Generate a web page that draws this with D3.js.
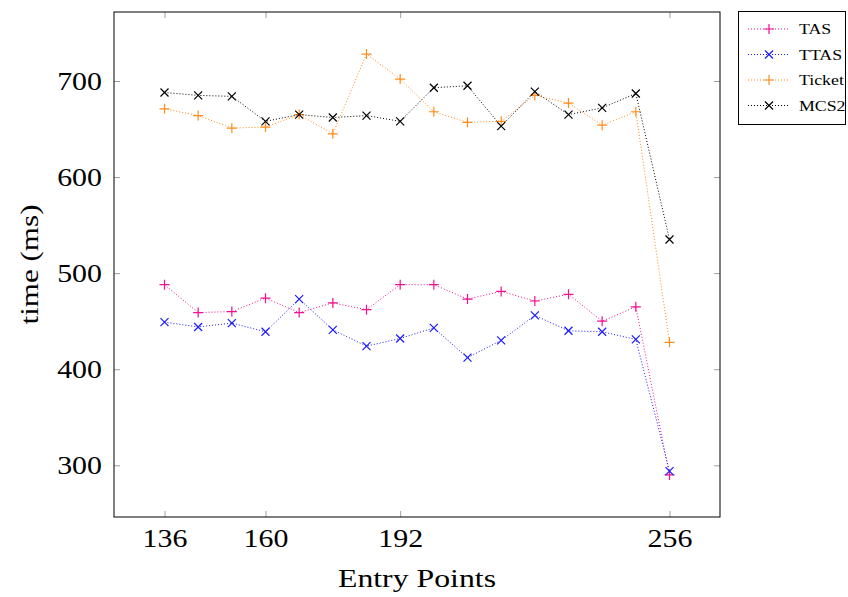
<!DOCTYPE html>
<html>
<head>
<meta charset="utf-8">
<script src="https://cdn.jsdelivr.net/npm/d3@7"></script>
<style>
	body {margin:0; background:#fff;}
	svg text {font-family:"Liberation Serif", "DejaVu Serif", serif; fill:#000;}
</style>
</head>
<body>
<script>
//data
var entryPoints = [136, 144, 152, 160, 168, 176, 184, 192, 200, 208, 216, 224, 232, 240, 248, 256];
var xTicks = [136, 160, 192, 256];
var yTicks = [300, 400, 500, 600, 700];

var tasTimes    = [488, 459, 460, 474, 459, 469, 462, 488, 488, 473, 481, 471, 478, 450, 465, 290];
var ttasTimes   = [449, 444, 448, 439, 473, 441, 424, 432, 443, 412, 430, 456, 440, 439, 431, 294];
var ticketTimes = [671, 664, 651, 652, 665, 645, 728, 702, 668, 657, 658, 685, 677, 654, 668, 428];
var mcs2Times   = [688, 685, 684, 658, 665, 662, 664, 658, 693, 695, 653, 689, 665, 672, 687, 535];

var seriesNames = ["TAS", "TTAS", "Ticket", "MCS2"];
var seriesValues = [tasTimes, ttasTimes, ticketTimes, mcs2Times];
var seriesColors = ["#ee1190", "#1a1aff", "#ff8c1a", "#000000"];
var seriesMarks = ["plus", "cross", "plus", "cross"];

var W = 848, H = 597;
var margin = {left: 114, right: 128, top: 12, bottom: 80};

var svg = d3.select("body").append("svg")
	.attr("width", W)
	.attr("height", H);

//pgfplots style: 10% enlarged limits
var xExt = d3.extent(entryPoints),
	yExt = [d3.min(seriesValues, function(s){return d3.min(s);}), d3.max(seriesValues, function(s){return d3.max(s);})];
var xPad = (xExt[1]-xExt[0])*0.1,
	yPad = (yExt[1]-yExt[0])*0.1;

var xScale = d3.scaleLinear()
	.domain([xExt[0]-xPad, xExt[1]+xPad])
	.range([margin.left, W - margin.right]);
var yScale = d3.scaleLinear()
	.domain([yExt[0]-yPad, yExt[1]+yPad])
	.range([H - margin.bottom, margin.top]);

var x0 = margin.left, x1 = W - margin.right,
	y0 = H - margin.bottom, y1 = margin.top;

//ticks (inward, both sides)
var tickLen = 6;
var axisBottom = d3.axisBottom(xScale).tickValues(xTicks).tickSizeInner(-tickLen).tickSizeOuter(0).tickPadding(12);
var axisTop = d3.axisTop(xScale).tickValues(xTicks).tickSizeInner(-tickLen).tickSizeOuter(0).tickFormat("");
var axisLeft = d3.axisLeft(yScale).tickValues(yTicks).tickSizeInner(-tickLen).tickSizeOuter(0).tickPadding(12);
var axisRight = d3.axisRight(yScale).tickValues(yTicks).tickSizeInner(-tickLen).tickSizeOuter(0).tickFormat("");

var gB = svg.append("g").attr("transform", "translate(0," + y0 + ")").call(axisBottom);
var gT = svg.append("g").attr("transform", "translate(0," + y1 + ")").call(axisTop);
var gL = svg.append("g").attr("transform", "translate(" + x0 + ",0)").call(axisLeft);
var gR = svg.append("g").attr("transform", "translate(" + x1 + ",0)").call(axisRight);

[gB, gT, gL, gR].forEach(function(g){
	g.select(".domain").remove();
	g.selectAll(".tick line").attr("stroke", "#a0a0a0").attr("stroke-width", 1);
	g.selectAll(".tick text").style("font-size", "26px").attr("fill", "#000");
});
//reference font is wider (palatino), stretch a bit
gB.selectAll(".tick text").attr("transform", "scale(1.15,1)");
gL.selectAll(".tick text").attr("x", 0).attr("transform", "translate(-12,0) scale(1.15,1)");

//frame
svg.append("rect")
	.attr("x", x0).attr("y", y1)
	.attr("width", x1 - x0).attr("height", y0 - y1)
	.attr("fill", "none").attr("stroke", "#000").attr("stroke-width", 1);

//axis labels
svg.append("text")
	.attr("x", (x0 + x1)/2 - 79)
	.attr("y", 587)
	.attr("textLength", 158)
	.attr("lengthAdjust", "spacingAndGlyphs")
	.style("font-size", "26px")
	.text("Entry Points");
svg.append("text")
	.attr("transform", "translate(38," + ((y0 + y1)/2 + 60) + ") rotate(-90)")
	.attr("textLength", 120)
	.attr("lengthAdjust", "spacingAndGlyphs")
	.style("font-size", "26px")
	.text("time (ms)");

function drawMark(g, kind, cx, cy, color, r){
	if (kind == "plus"){
		g.append("path")
			.attr("d", "M" + (cx - r) + "," + cy + "H" + (cx + r) + "M" + cx + "," + (cy - r) + "V" + (cy + r))
			.attr("stroke", color).attr("stroke-width", 1.2).attr("fill", "none");
	} else {
		var q = r*0.8;
		g.append("path")
			.attr("d", "M" + (cx - q) + "," + (cy - q) + "L" + (cx + q) + "," + (cy + q) + "M" + (cx - q) + "," + (cy + q) + "L" + (cx + q) + "," + (cy - q))
			.attr("stroke", color).attr("stroke-width", 1.2).attr("fill", "none");
	}
}

//series
var line = d3.line()
	.x(function(d, i){ return xScale(entryPoints[i]); })
	.y(function(d){ return yScale(d); });

seriesValues.forEach(function(vals, j){
	var g = svg.append("g");
	g.append("path")
		.attr("d", line(vals))
		.attr("fill", "none")
		.attr("stroke", seriesColors[j])
		.attr("stroke-width", 1)
		.attr("stroke-dasharray", "1,2");
	vals.forEach(function(v, i){
		drawMark(g, seriesMarks[j], xScale(entryPoints[i]), yScale(v), seriesColors[j], 5);
	});
});

//legend
var leg = svg.append("g");
leg.append("rect")
	.attr("x", 738.5).attr("y", 11.5)
	.attr("width", 107).attr("height", 113)
	.attr("fill", "#fff").attr("stroke", "#000").attr("stroke-width", 1);
seriesNames.forEach(function(name, j){
	var ly = 29 + j*25.5;
	leg.append("line")
		.attr("x1", 748).attr("x2", 790)
		.attr("y1", ly).attr("y2", ly)
		.attr("stroke", seriesColors[j])
		.attr("stroke-width", 1)
		.attr("stroke-dasharray", "1,2");
	drawMark(leg, seriesMarks[j], 769, ly, seriesColors[j], 5);
	leg.append("text")
		.attr("transform", "translate(799," + (ly + 5) + ") scale(1.15,1)")
		.style("font-size", "15.5px")
		.text(name);
});
</script>
</body>
</html>
